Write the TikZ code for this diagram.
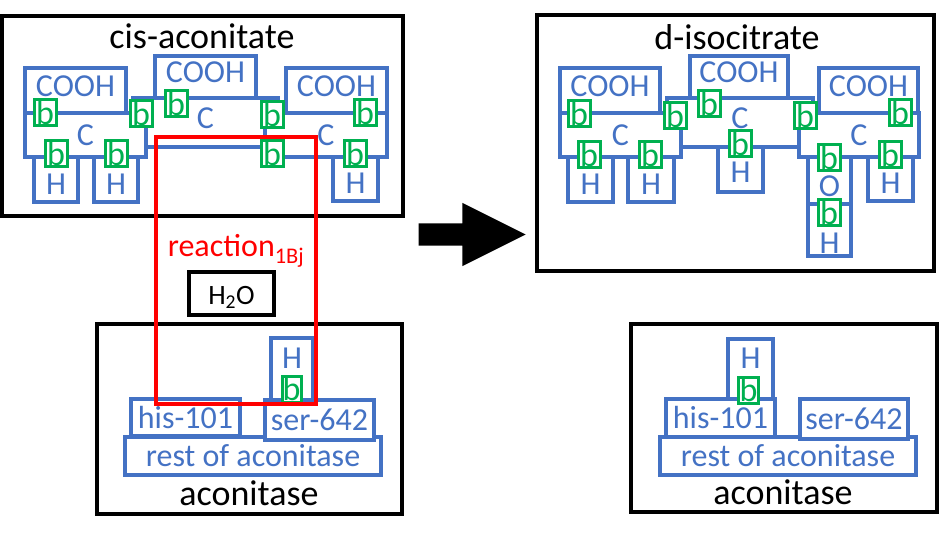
\documentclass[tikz,border=0pt]{standalone}
\usepackage{fontspec}
\setmainfont{Carlito}
\usetikzlibrary{fit,shapes.arrows}
\definecolor{grpblue}{HTML}{4472C4}
\definecolor{bondgreen}{HTML}{00B050}
\definecolor{rxnred}{HTML}{FF0000}
\begin{document}
\begin{tikzpicture}[x=1pt,y=-1pt,
                    mol/.style={draw=black,line width=4.5pt,inner sep=0pt},
                    molname/.style={font=\fontsize{36}{40}\selectfont,inner sep=0pt},
                    wh/.style 2 args={minimum width=#1pt,minimum height=#2pt},
                    grp/.style={draw=grpblue,fill=white,line width=3.2pt,text=grpblue,inner sep=0pt,font=\fontsize{32}{36}\selectfont},
                    bnd/.style={draw=bondgreen,fill=white,line width=3pt,text=bondgreen,inner sep=0pt,
                                minimum width=22pt,minimum height=26pt,font=\fontsize{34}{38}\selectfont},
                    up/.style={text depth=9pt},
                    low/.style={text height=#1},low/.default=30pt]
    \useasboundingbox (0,0) rectangle (940,537);
    % cis-aconitate
    \node (cis) [mol,fit={(2,16) (403,216)}] {};
    \node (cisname) at (202,36) [molname] {cis-aconitate};
    \node (cacM) at (205.5,122.5) [grp,up,wh={145}{49}] {C};
    \node (cacL) at (85.5,135) [grp,wh={121}{44}] {C};
    \node (cacR) at (326,135) [grp,wh={122}{44}] {C};
    \node (cacoohL) at (75.5,90.5) [grp,up,wh={101}{45}] {COOH};
    \node (cacoohM) at (205.5,77) [grp,up,wh={101}{42}] {COOH};
    \node (cacoohR) at (336.5,90.5) [grp,up,wh={101}{45}] {COOH};
    \node (cahL1) at (56,179.5) [grp,low,wh={44}{45}] {H};
    \node (cahL2) at (116,179.5) [grp,low,wh={44}{45}] {H};
    \node (cahR) at (355.5,179) [grp,low,wh={45}{44}] {H};
    \node (cab1) at (45,113) [bnd] {b};
    \node (cab2) at (141,114) [bnd] {b};
    \node (cab3) at (56,154) [bnd] {b};
    \node (cab4) at (116,154) [bnd] {b};
    \node (cab5) at (176,104) [bnd] {b};
    \node (cab6) at (272,115) [bnd] {b};
    \node (cab7) at (272,154) [bnd] {b};
    \node (cab8) at (365,113) [bnd] {b};
    \node (cab9) at (355,154) [bnd] {b};
    % d-isocitrate
    \node (iso) [mol,fit={(537,15) (934,271)}] {};
    \node (isoname) at (737,37) [molname] {d-isocitrate};
    \node (iscM) at (740,122.5) [grp,up,wh={146}{49}] {C};
    \node (ishM) at (740.5,169.5) [grp,low=26pt,wh={45}{45}] {H};
    \node (iscL) at (620.5,135) [grp,wh={121}{44}] {C};
    \node (iscR) at (859,135) [grp,wh={120}{44}] {C};
    \node (iscoohL) at (610,90.5) [grp,up,wh={100}{45}] {COOH};
    \node (iscoohM) at (739,77) [grp,up,wh={98}{42}] {COOH};
    \node (iscoohR) at (868.5,90.5) [grp,up,wh={99}{45}] {COOH};
    \node (ishL1) at (590.5,179.5) [grp,low,wh={45}{45}] {H};
    \node (ishL2) at (651,179.5) [grp,low,wh={46}{45}] {H};
    \node (ishR) at (890.5,179) [grp,low,wh={45}{44}] {H};
    \node (iso1) at (829.5,180.5) [grp,low=33pt,wh={43}{47}] {O};
    \node (ishO) at (829.5,230) [grp,low=47pt,wh={43}{52}] {H};
    \node (isb1) at (579,114) [bnd] {b};
    \node (isb2) at (675,116) [bnd] {b};
    \node (isb3) at (589,155) [bnd] {b};
    \node (isb4) at (650,155) [bnd] {b};
    \node (isb5) at (709,104) [bnd] {b};
    \node (isb6) at (740,144) [bnd] {b};
    \node (isb7) at (805,116) [bnd] {b};
    \node (isb8) at (900,113) [bnd] {b};
    \node (isb9) at (829,158) [bnd] {b};
    \node (isb10) at (829,213) [bnd] {b};
    \node (isb11) at (890,155) [bnd] {b};
    % aconitase before
    \node (enzL) [mol,fit={(97,324) (402,514)}] {};
    \node (enzLname) at (249,493) [molname] {aconitase};
    \node (enzLrest) at (253,456) [grp,wh={256}{38}] {rest of aconitase};
    \node (enzLhis) at (185.5,417.5) [grp,wh={109}{37}] {his-101};
    \node (enzLser) at (319.5,420) [grp,wh={109}{40}] {ser-642};
    \node (enzLh) at (292,369) [grp,text depth=21pt,wh={42}{62}] {H};
    \node (enzLb) at (291.5,389) [bnd,minimum width=19pt] {b};
    % aconitase after
    \node (enzR) [mol,fit={(631,324) (937,512)}] {};
    \node (enzRname) at (783,492) [molname] {aconitase};
    \node (enzRrest) at (788,456) [grp,wh={256}{38}] {rest of aconitase};
    \node (enzRser) at (854,419) [grp,wh={108}{40}] {ser-642};
    \node (enzRhis) at (720.5,418) [grp,wh={109}{38}] {his-101};
    \node (enzRh) at (750.5,369) [grp,text depth=21pt,wh={45}{60}] {H};
    \node (enzRb) at (748.5,390) [bnd,minimum width=20pt] {b};
    % reaction
    \node (water) at (231.5,293.5) [draw=black,line width=3.5pt,inner sep=0pt,text height=26pt,
                                    font=\fontsize{28}{32}\selectfont,wh={85}{43}] {H\textsubscript{2}O};
    \node (rxnname) at (236,251) [text=rxnred,inner sep=0pt,font=\fontsize{32}{36}\selectfont] {reaction\textsubscript{1Bj}};
    \node (rxn) [draw=rxnred,line width=4.5pt,inner sep=0pt,fit={(156,137) (316,404)}] {};
    \node (turn) at (461,234.5) [single arrow,fill=black,inner sep=11pt,minimum height=107pt,
                                 single arrow head extend=20.5pt,single arrow tip angle=53.13,
                                 single arrow head indent=0pt] {};
\end{tikzpicture}
\end{document}
